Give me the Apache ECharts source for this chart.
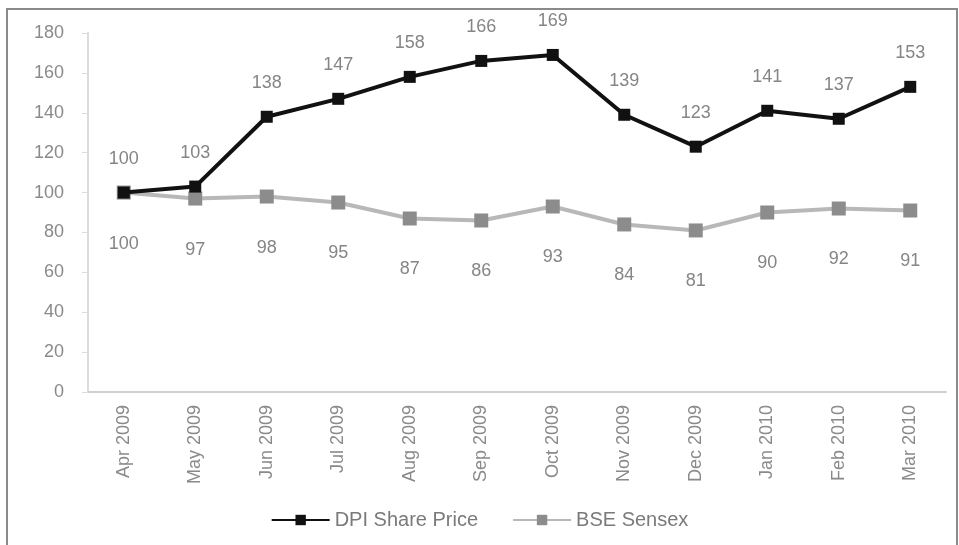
<!DOCTYPE html>
<html>
<head>
<meta charset="utf-8">
<script src="https://cdn.jsdelivr.net/npm/echarts@6/dist/echarts.min.js"></script>
<style>
  html, body { margin: 0; padding: 0; background: #fff; }
  #chart { width: 959px; height: 545px; }
</style>
</head>
<body>
<div id="chart"></div>
<script>
// Month labels along the x axis
const months = ['Apr 2009', 'May 2009', 'Jun 2009', 'Jul 2009', 'Aug 2009', 'Sep 2009',
                'Oct 2009', 'Nov 2009', 'Dec 2009', 'Jan 2010', 'Feb 2010', 'Mar 2010'];

// Indexed values (base month = 100)
const dpiSharePrice = [100, 103, 138, 147, 158, 166, 169, 139, 123, 141, 137, 153];
const bseSensex = [100, 97, 98, 95, 87, 86, 93, 84, 81, 90, 92, 91];

// Value axis ticks
const yMin = 0;
const yMax = 180;
const yStep = 20;

const labelFont = 'Liberation Sans, Arial, sans-serif';

const chart = echarts.init(document.getElementById('chart'));
chart.setOption({
  animation: false,
  backgroundColor: '#fff',
  textStyle: { fontFamily: labelFont },
  graphic: [{
    type: 'rect',
    shape: { x: 7, y: 9, width: 950, height: 545 },
    style: { fill: 'none', stroke: '#8a8a8a', lineWidth: 2 },
    silent: true
  }],
  grid: { left: 88, right: 13, top: 33, bottom: 153 },
  legend: {
    bottom: 10,
    left: 'center',
    itemWidth: 58,
    itemHeight: 13,
    itemGap: 34,
    textStyle: { color: '#7a7a7a', fontSize: 20, fontFamily: labelFont },
    data: ['DPI Share Price', 'BSE Sensex']
  },
  xAxis: {
    type: 'category',
    data: months,
    boundaryGap: true,
    axisLine: { lineStyle: { color: '#cfcfcf', width: 2 } },
    axisTick: { show: false },
    axisLabel: {
      rotate: 90,
      margin: 13,
      color: '#8a8a8a',
      fontSize: 18,
      fontFamily: labelFont
    }
  },
  yAxis: {
    type: 'value',
    min: yMin,
    max: yMax,
    interval: yStep,
    axisLine: { show: true, lineStyle: { color: '#dcdcdc', width: 2 } },
    axisTick: { show: true, inside: false, length: 6, lineStyle: { color: '#dcdcdc' } },
    splitLine: { show: false },
    axisLabel: {
      margin: 24,
      color: '#8a8a8a',
      fontSize: 18,
      fontFamily: labelFont
    }
  },
  series: [
    {
      name: 'DPI Share Price',
      type: 'line',
      data: dpiSharePrice,
      symbol: 'rect',
      symbolSize: 12,
      z: 3,
      lineStyle: { color: '#111', width: 4 },
      itemStyle: { color: '#111' },
      label: {
        show: true,
        position: 'top',
        distance: 19,
        color: '#858585',
        fontSize: 18,
        fontFamily: labelFont
      }
    },
    {
      name: 'BSE Sensex',
      type: 'line',
      data: bseSensex,
      symbol: 'rect',
      symbolSize: 14,
      z: 2,
      lineStyle: { color: '#b8b8b8', width: 4 },
      itemStyle: { color: '#8c8c8c' },
      label: {
        show: true,
        position: 'bottom',
        distance: 35,
        color: '#858585',
        fontSize: 18,
        fontFamily: labelFont
      }
    }
  ]
});
</script>
</body>
</html>
